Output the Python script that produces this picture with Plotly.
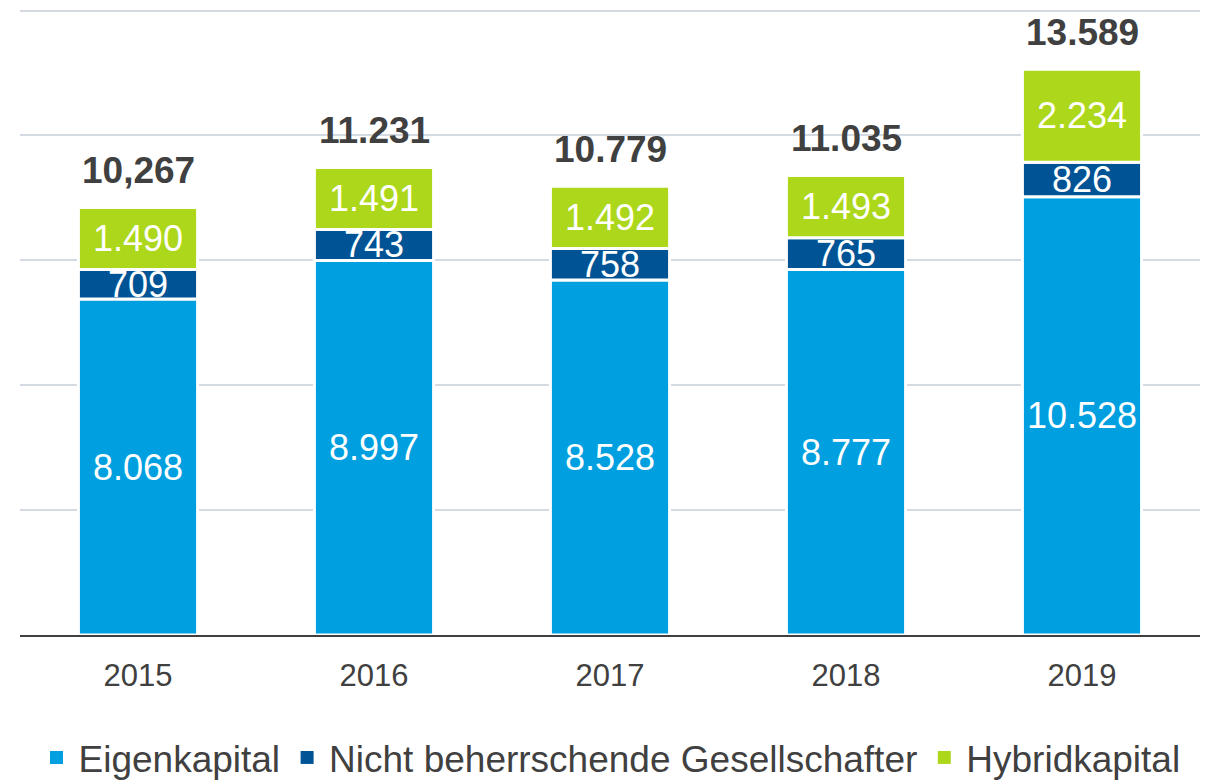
import plotly.graph_objects as go

years = ["2015", "2016", "2017", "2018", "2019"]
eigenkapital = [8068, 8997, 8528, 8777, 10528]
nicht_beherrschende = [709, 743, 758, 765, 826]
hybridkapital = [1490, 1491, 1492, 1493, 2234]
totals = [10267, 11231, 10779, 11035, 13589]
total_labels = ["10,267", "11.231", "10.779", "11.035", "13.589"]

FONT = "Liberation Sans, Arial, sans-serif"
C_EK = "#009FE0"
C_NB = "#005495"
C_HY = "#ADD71A"


def fmt(v):
    return f"{v:,}".replace(",", ".")


series = [
    ("Eigenkapital", eigenkapital, C_EK),
    ("Nicht beherrschende Gesellschafter", nicht_beherrschende, C_NB),
    ("Hybridkapital", hybridkapital, C_HY),
]

xpos = list(range(len(years)))

fig = go.Figure()
base = [0] * len(years)
for name, vals, col in series:
    fig.add_trace(go.Bar(
        x=xpos, y=vals, base=base, name=name, showlegend=False,
        width=0.505,
        marker_color=col,
        marker_line_color="white", marker_line_width=3,
    ))
    for x, b, v in zip(xpos, base, vals):
        fig.add_annotation(
            x=x, y=b + v / 2, text=fmt(v), showarrow=False,
            yanchor="middle",
            font=dict(family=FONT, size=36, color="white"),
        )
    base = [b + v for b, v in zip(base, vals)]

# legend entries with square symbols
for name, vals, col in series:
    fig.add_trace(go.Scatter(
        x=[None], y=[None], mode="markers", name=name,
        marker=dict(symbol="square", size=13, color=col),
    ))

for x, t, lab in zip(xpos, totals, total_labels):
    fig.add_annotation(
        x=x, y=t, text=f"<b>{lab}</b>", showarrow=False,
        yanchor="middle", yshift=37,
        font=dict(family=FONT, size=37, color="#404040"),
    )

# the page body adds an 8px margin, so the figure is sized/offset to compensate
fig.update_layout(
    barmode="overlay",
    width=1204, height=776,
    margin=dict(l=12, r=12, t=0, b=149, autoexpand=False),
    paper_bgcolor="white", plot_bgcolor="white",
    font=dict(family=FONT, color="#404040"),
    legend=dict(
        orientation="h", x=0.5, xanchor="center", y=-0.196, yanchor="middle",
        font=dict(family=FONT, size=37, color="#404040"),
        traceorder="normal", itemwidth=34,
    ),
    showlegend=True,
    hovermode=False,
)
fig.update_xaxes(
    range=[-0.5, len(years) - 0.5],
    tickvals=xpos, ticktext=years,
    showgrid=False, zeroline=False,
    showline=True, linecolor="#404040", linewidth=2,
    tickfont=dict(family=FONT, size=31, color="#404040"),
    ticks="outside", ticklen=12, tickcolor="rgba(0,0,0,0)",
)
fig.update_yaxes(
    range=[0, 15060], tickvals=[3000, 6000, 9000, 12000, 15000], showticklabels=False,
    showgrid=True, gridcolor="#D3DAE2", gridwidth=2,
    zeroline=False,
)

fig.write_html("out.html")
